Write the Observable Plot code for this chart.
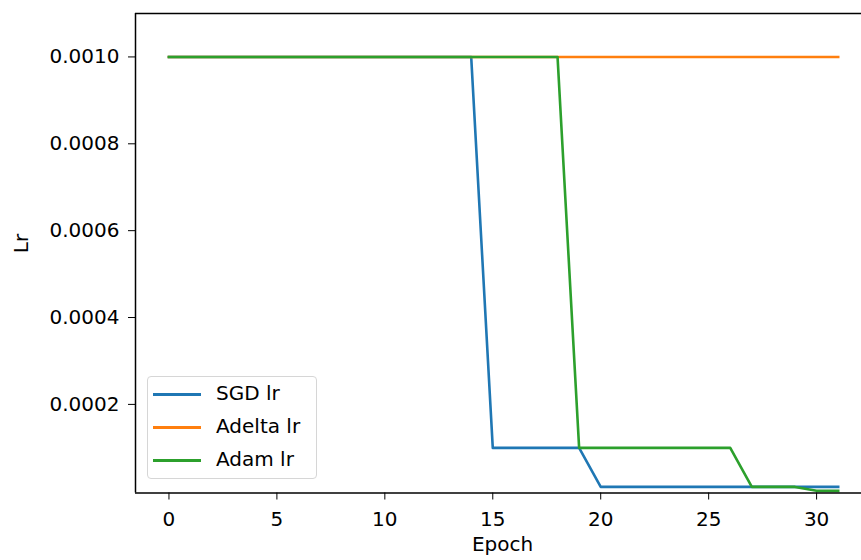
<!DOCTYPE html>
<html>
<head>
<meta charset="utf-8">
<script src="https://cdn.jsdelivr.net/npm/d3@7"></script>
<script src="https://cdn.jsdelivr.net/npm/@observablehq/plot@0.6"></script>
<style>
  html, body { margin: 0; padding: 0; background: #fff; overflow: hidden; }
  #wrap { position: relative; width: 861px; height: 560px; }
  #legend {
    position: absolute; left: 147px; top: 376px; width: 170px; height: 103px;
    border: 1px solid #d6d6d6; border-radius: 4px; background: rgba(255,255,255,0.8);
    font-family: "DejaVu Sans", sans-serif; font-size: 20px; color: #000; box-sizing: border-box;
  }
  .row { position: absolute; left: 0; height: 20px; }
  .sw { position: absolute; left: 5px; width: 48px; height: 0; border-top: 3px solid; top: 9px; }
  .lb { position: absolute; left: 68px; top: -3px; white-space: nowrap; }
</style>
</head>
<body>
<div id="wrap"></div>
<script>
const epochs = [0,1,2,3,4,5,6,7,8,9,10,11,12,13,14,15,16,17,18,19,20,21,22,23,24,25,26,27,28,29,30,31];
const sgdLr = [0.001,0.001,0.001,0.001,0.001,0.001,0.001,0.001,0.001,0.001,0.001,0.001,0.001,0.001,0.001,
  0.0001,0.0001,0.0001,0.0001,0.0001,
  0.00001,0.00001,0.00001,0.00001,0.00001,0.00001,0.00001,0.00001,0.00001,0.00001,0.00001,0.00001];
const adeltaLr = [0.001,0.001,0.001,0.001,0.001,0.001,0.001,0.001,0.001,0.001,0.001,0.001,0.001,0.001,0.001,0.001,
  0.001,0.001,0.001,0.001,0.001,0.001,0.001,0.001,0.001,0.001,0.001,0.001,0.001,0.001,0.001,0.001];
const adamLr = [0.001,0.001,0.001,0.001,0.001,0.001,0.001,0.001,0.001,0.001,0.001,0.001,0.001,0.001,0.001,0.001,0.001,0.001,0.001,
  0.0001,0.0001,0.0001,0.0001,0.0001,0.0001,0.0001,0.0001,
  0.00001,0.00001,0.00001,0.000001,0.000001];
const seriesNames = ["SGD lr", "Adelta lr", "Adam lr"];
const seriesColors = ["#1f77b4", "#ff7f0e", "#2ca02c"];
const xTicks = [0, 5, 10, 15, 20, 25, 30];
const yTicks = [0.0002, 0.0004, 0.0006, 0.0008, 0.0010];
const xDomain = [-1.55, 32.08];
const yDomain = [-0.000004, 0.0011];

const seriesValues = [sgdLr, adeltaLr, adamLr];
const rows = [];
seriesNames.forEach((name, i) => {
  epochs.forEach((e, j) => rows.push({series: name, epoch: e, lr: seriesValues[i][j]}));
});

const font = "DejaVu Sans, sans-serif";
const chart = Plot.plot({
  width: 861,
  height: 560,
  marginLeft: 135,
  marginRight: 0,
  marginTop: 13,
  marginBottom: 67.5,
  style: {fontFamily: font, fontSize: "20px", color: "#000", background: "#fff"},
  x: {domain: xDomain, ticks: xTicks, tickSize: 7, tickPadding: 12, label: null, tickFormat: d3.format("d")},
  y: {domain: yDomain, ticks: yTicks, tickSize: 7, tickPadding: 9, label: null, tickFormat: d3.format(".4f")},
  color: {domain: seriesNames, range: seriesColors},
  marks: [
    Plot.line(rows, {x: "epoch", y: "lr", z: "series", stroke: "series", strokeWidth: 2.6, strokeLinejoin: "round", strokeLinecap: "square"}),
    Plot.ruleY([yDomain[1]], {stroke: "#000", strokeWidth: 1.5}),
    Plot.ruleY([yDomain[0]], {stroke: "#000", strokeWidth: 1.5}),
    Plot.ruleX([xDomain[0]], {stroke: "#000", strokeWidth: 1.5}),
    Plot.text(["Lr"], {frameAnchor: "left", dx: -114, rotate: -90, text: d => d, fontSize: 20, fill: "#000"}),
    Plot.text(["Epoch"], {frameAnchor: "bottom", dx: 4, dy: 58, text: d => d, fontSize: 20, fill: "#000"})
  ]
});
const wrap = document.getElementById("wrap");
wrap.appendChild(chart);

const legend = document.createElement("div");
legend.id = "legend";
seriesNames.forEach((name, i) => {
  const r = document.createElement("div");
  r.className = "row";
  r.style.top = (7 + i * 33) + "px";
  r.innerHTML = `<div class="sw" style="border-color:${seriesColors[i]}"></div><div class="lb">${name}</div>`;
  legend.appendChild(r);
});
wrap.appendChild(legend);
</script>
</body>
</html>
